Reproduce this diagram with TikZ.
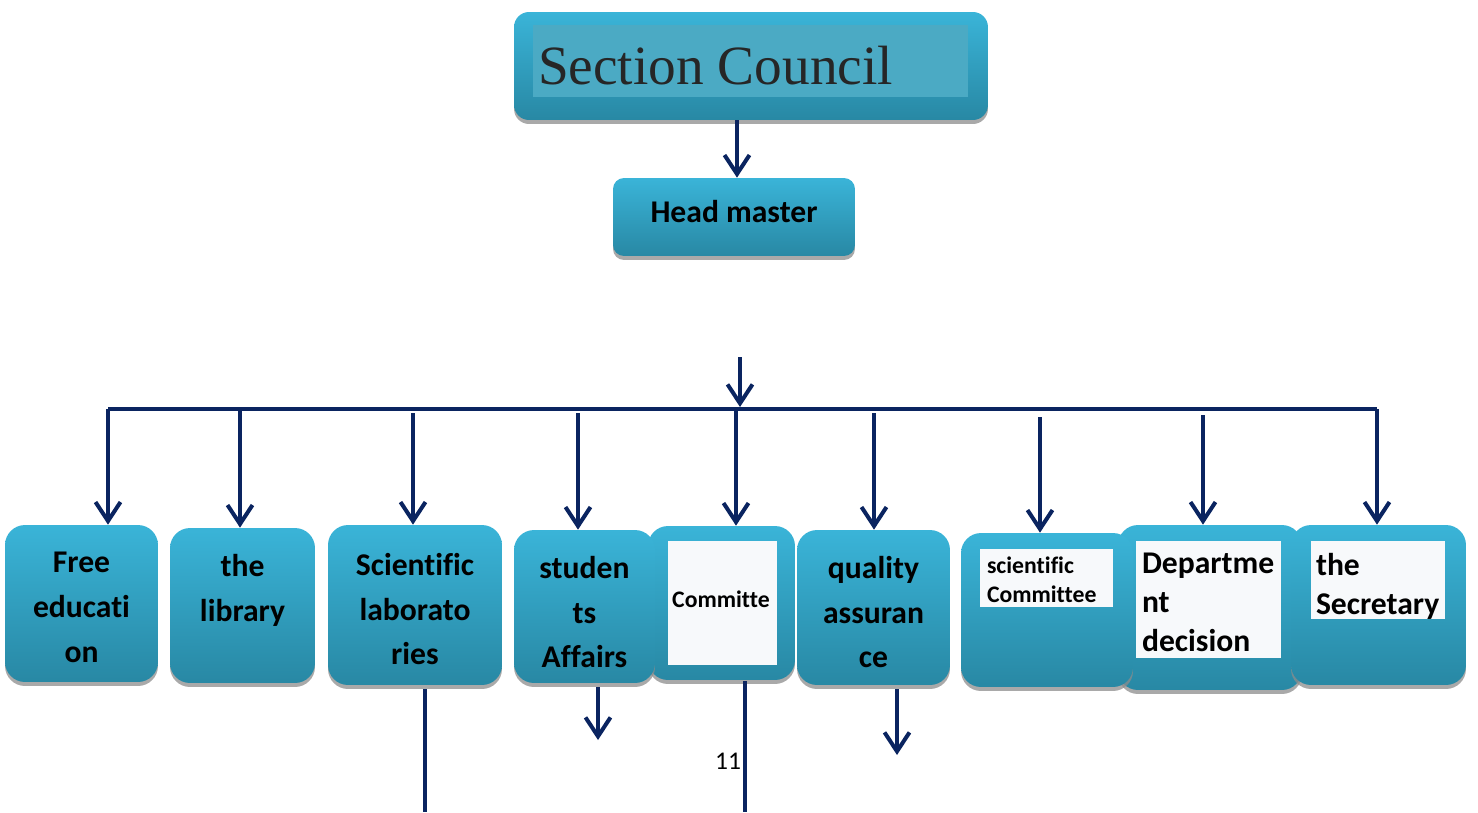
\documentclass[tikz,border=0pt]{standalone}
\usepackage{fontspec}
\setmainfont{Carlito}[Ligatures=CommonOff]
\newfontfamily\councilfont{Liberation Serif}
\usetikzlibrary{positioning,shadows,arrows.meta}
\definecolor{boxtop}{RGB}{58,180,216}
\definecolor{boxbot}{RGB}{40,136,164}
\definecolor{bandcol}{RGB}{75,170,196}
\definecolor{navy}{RGB}{10,36,96}
\definecolor{paper}{RGB}{247,249,251}
\newcommand\boxfont{\fontsize{18}{25.5}\selectfont\bfseries}
\newcommand\smallboxfont{\fontsize{13.5}{16.4}\selectfont\bfseries}
\newcommand\paperfont{\fontsize{18}{22.3}\selectfont\bfseries}
\begin{document}
\begin{tikzpicture}[x=0.02cm, y=-0.02cm, line join=round,
	unit/.style={draw=none, inner sep=0, rounded corners=0.4cm, top color=boxtop, bottom color=boxbot,
		drop shadow={shadow xshift=0cm, shadow yshift=-0.08cm, fill=black!45, opacity=0.75}},
	paperbox/.style={fill=paper, draw=none, inner sep=0},
	boxtext/.style={inner sep=0, align=center, font=\boxfont},
	papertext/.style={inner sep=0, align=left, font=\paperfont},
	arr/.style={draw=navy, line width=0.08cm, -{Straight Barb[length=0.38cm, width=0.5cm]}},
	wire/.style={draw=navy, line width=0.08cm}]
	\useasboundingbox (0,0) rectangle (1478,812);
	% top of the chart
	\node[unit, rounded corners=0.3cm, minimum width=9.48cm, minimum height=2.16cm] (council) at (751,66) {};
	\node[fill=bandcol, inner sep=0, minimum width=8.7cm, minimum height=1.44cm] (band) at (750.5,61) {};
	\node[above right=0.24cm and 0.1cm of band.south west, inner sep=0, text=black!85,
		font=\councilfont\fontsize{31.5}{36}\selectfont] (counciltext) {Section Council};
	\node[unit, rounded corners=0.22cm, minimum width=4.84cm, minimum height=1.56cm, text depth=0.22cm,
		font=\fontsize{18}{22}\selectfont\bfseries] (head) at (734,217) {Head master};
	\coordinate (hx) at (737,0);
	\draw[arr] (council.south -| hx) -- (head.north -| hx);
	% units
	\node[unit, minimum width=3.06cm, minimum height=3.14cm] (b1) at (81.5,603.5) {};
	\node[unit, minimum width=2.9cm, minimum height=3.1cm] (b2) at (242.5,605.5) {};
	\node[unit, minimum width=3.48cm, minimum height=3.2cm] (b3) at (415,605) {};
	\node[unit, minimum width=2.94cm, minimum height=3.08cm] (b5) at (721.5,603) {};
	\node[unit, minimum width=2.82cm, minimum height=3.06cm] (b4) at (584.5,606.5) {};
	\node[unit, minimum width=3.06cm, minimum height=3.1cm] (b6) at (873.5,607.5) {};
	\node[unit, minimum width=3.68cm, minimum height=3.3cm] (b8) at (1210,607.5) {};
	\node[unit, minimum width=3.44cm, minimum height=3.08cm] (b7) at (1047,610) {};
	\node[unit, minimum width=3.5cm, minimum height=3.2cm] (b9) at (1378.5,605) {};
	\node[boxtext, below=0.54cm of b1.north] (t1) {Free\\educati\\on};
	\node[boxtext, below=0.52cm of b2.north] (t2) {the\\library};
	\node[boxtext, below=0.56cm of b3.north] (t3) {Scientific\\laborato\\ries};
	\node[boxtext, below=0.52cm of b4.north] (t4) {studen\\ts\\Affairs};
	\node[boxtext, below=0.52cm of b6.north] (t6) {quality\\assuran\\ce};
	\node[paperbox, minimum width=2.18cm, minimum height=2.48cm] (w5) at (722.5,603) {};
	\node[inner sep=0, font=\smallboxfont] (t5) at (721,599) {Committe};
	\node[paperbox, minimum width=2.66cm, minimum height=1.16cm] (w7) at (1046.5,578) {};
	\node[papertext, font=\smallboxfont, below right=0.16cm and 0.14cm of w7.north west] (t7) {scientific\\Committee};
	\node[paperbox, minimum width=2.9cm, minimum height=2.34cm] (w8) at (1208.5,599.5) {};
	\node[papertext, below right=0.24cm and 0.12cm of w8.north west] (t8) {Departme\\nt\\decision};
	\node[paperbox, minimum width=2.68cm, minimum height=1.56cm] (w9) at (1378,580) {};
	\node[papertext, below right=0.24cm and 0.1cm of w9.north west] (t9) {the\\Secretary};
	% distribution line
	\coordinate (feed) at (740,357);
	\coordinate (split) at (740,407);
	\coordinate (busL) at (108,409);
	\coordinate (busR) at (1377,409);
	\draw[wire] (busL) -- (busR);
	\draw[arr] (feed) -- (split);
	\coordinate (d1) at (108,409);
	\coordinate (d2) at (240,407);
	\coordinate (d3) at (413,413);
	\coordinate (d4) at (578,413);
	\coordinate (d5) at (736,411);
	\coordinate (d6) at (874,413);
	\coordinate (d7) at (1040,417);
	\coordinate (d8) at (1203,415);
	\coordinate (d9) at (1377,409);
	\draw[arr] (d1) -- (d1 |- b1.north);
	\draw[arr] (d2) -- (d2 |- b2.north);
	\draw[arr] (d3) -- (d3 |- b3.north);
	\draw[arr] (d4) -- (d4 |- b4.north);
	\draw[arr] (d5) -- (d5 |- b5.north);
	\draw[arr] (d6) -- (d6 |- b6.north);
	\draw[arr] (d7) -- (d7 |- b7.north);
	\draw[arr] (d8) -- (d8 |- b8.north);
	\draw[arr] (d9) -- (d9 |- b9.north);
	% lines below the units
	\coordinate (o3) at (425,812);
	\coordinate (o4) at (598,740);
	\coordinate (o5) at (745,812);
	\coordinate (o6) at (897,755);
	\draw[wire, shorten <=0.08cm] (o3 |- b3.south) -- (o3);
	\draw[arr, shorten <=0.08cm] (o4 |- b4.south) -- (o4);
	\draw[wire, shorten <=0.02cm] (o5 |- b5.south) -- (o5);
	\draw[arr, shorten <=0.08cm] (o6 |- b6.south) -- (o6);
	\node[inner sep=0, font=\fontsize{14.5}{16}\selectfont] (pagenum) at (728,761) {11};
\end{tikzpicture}
\end{document}
